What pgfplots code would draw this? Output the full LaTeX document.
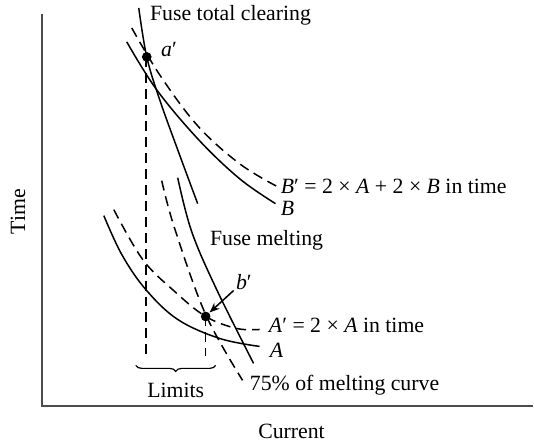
\documentclass[border=0pt]{standalone}
\usepackage{fontspec}
\setmainfont{Liberation Serif}
\usepackage{pgfplots}
\pgfplotsset{compat=1.18}
\usetikzlibrary{decorations.pathreplacing,arrows.meta}

\tikzset{
  crv/.style={smooth, tension=0.6, line width=0.75pt, black},
  dsh/.style={dash pattern=on 5pt off 3pt},
  lbl/.style={anchor=west, inner sep=0pt},
}

\begin{document}
\fontsize{10.9}{13}\selectfont
\begin{tikzpicture}
\begin{axis}[
  width=267pt, height=222pt, scale only axis,
  xmin=0, xmax=534, ymin=0, ymax=444, y dir=reverse,
  hide axis, clip=false,
]
% keep the full frame in the bounding box
\addplot[draw=none] coordinates {(0,0) (534,444)};

% axes
\addplot[line width=0.9pt, black!70] coordinates {(42,14) (42,407) (534,407)};

% fuse total clearing
\addplot[crv] coordinates {(139,8) (147,57) (160,100) (178,150) (198,204)};
% B' (dashed) and B
\addplot[crv, dsh] coordinates {(132,28) (160,75) (198,126) (240,164) (278,187)};
\addplot[crv] coordinates {(127,42) (157,90) (199,140) (240,179) (276,204)};

% fuse melting and 75% curve
\addplot[crv] coordinates {(178,178) (192,232) (217,290) (254,364)};
\addplot[crv, dsh] coordinates {(162,181) (175,229) (206,315) (243,381)};

% A' (dashed) and A
\addplot[crv, dsh] coordinates {(114,210) (143,260) (175,292) (206,317) (237,329) (260,330)};
\addplot[crv] coordinates {(104,216) (122,255) (146,290) (178,320) (220,339) (260,347)};

% limit lines
\addplot[line width=0.75pt, dsh] coordinates {(146,57) (146,357)};
\addplot[line width=0.75pt, dsh] coordinates {(206,317) (206,357)};

% points a' and b'
\addplot[only marks, mark=*, mark size=2.2pt, black] coordinates {(147,57) (206,317)};

\draw[decorate, decoration={brace, mirror, amplitude=3pt}, line width=0.6pt]
  (axis cs:136,366) -- (axis cs:216,366);
\draw[-{Stealth[length=5pt,width=4pt]}, line width=0.75pt]
  (axis cs:234,291) -- (axis cs:210,313);

\node[lbl] at (axis cs:150,15) {Fuse total clearing};
\node[lbl] at (axis cs:161,50) {\textit{a}′};
\node[lbl] at (axis cs:281,187) {\textit{B}′ = 2 × \textit{A} + 2 × \textit{B} in time};
\node[lbl] at (axis cs:281,209) {\textit{B}};
\node[lbl] at (axis cs:210,241) {Fuse melting};
\node[lbl] at (axis cs:236,283) {\textit{b}′};
\node[lbl] at (axis cs:269,326) {\textit{A}′ = 2 × \textit{A} in time};
\node[lbl] at (axis cs:270,351) {\textit{A}};
\node[lbl] at (axis cs:250,386) {75\% of melting curve};
\node at (axis cs:176,391) {Limits};
\node[rotate=90] at (axis cs:18,212) {Time};
\node at (axis cs:292,432) {Current};
\end{axis}
\end{tikzpicture}
\end{document}
